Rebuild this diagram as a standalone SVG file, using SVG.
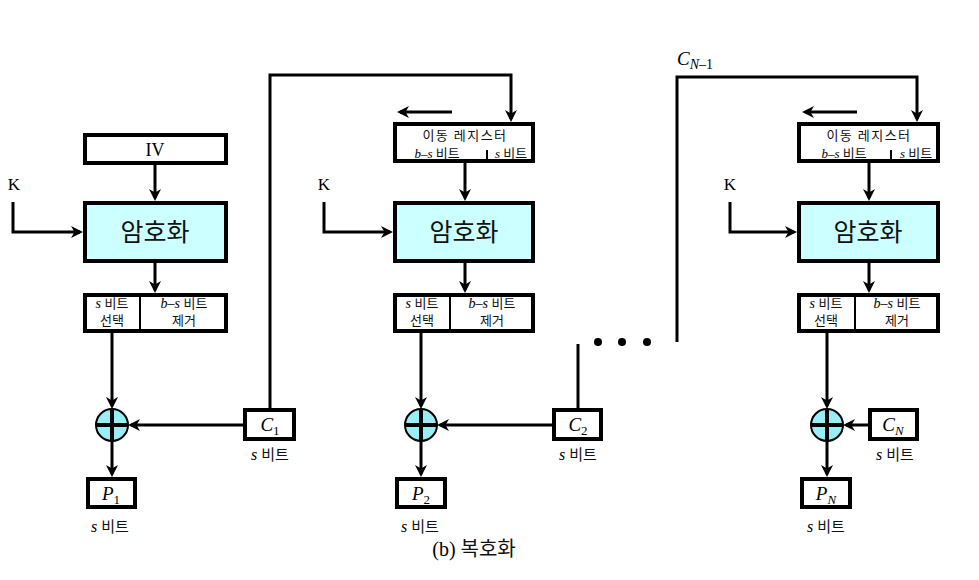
<svg xmlns="http://www.w3.org/2000/svg" width="979" height="580" viewBox="0 0 979 580">
<style>
.box{fill:#fff;stroke:#000;stroke-width:4}
.enc{fill:#ccffff;stroke:#000;stroke-width:4}
.div{stroke:#000;stroke-width:2}
.ln{fill:none;stroke:#000;stroke-width:3}
.arr{fill:none;stroke:#000;stroke-width:3;marker-end:url(#ah)}
.xor{fill:#99eef6;stroke:#000;stroke-width:2}
.cross{stroke:#000;stroke-width:4}
.kr{font-family:"Noto Sans CJK KR","Noto Sans",sans-serif;fill:#111}
.sm{font-size:13px}
.big{font-size:25px}
.it{font-family:"Liberation Serif",serif;font-style:italic}
.rm{font-family:"Liberation Serif",serif}
text{text-anchor:middle}
</style>
<defs>
<marker id="ah" markerUnits="userSpaceOnUse" markerWidth="14" markerHeight="12" refX="9" refY="6" orient="auto">
<path d="M0,0 L12,6 L0,12 L3.5,6 z" fill="#000"/>
</marker>
</defs>

<g id="connectors">
<path class="arr" d="M13,202 V232 H80"/>
<path class="arr" d="M155,165 V198"/>
<path class="arr" d="M155,263 V290"/>
<path class="arr" d="M112,333 V406"/>
<path class="arr" d="M112,441 V474"/>
<path class="arr" d="M243,425 H131"/>
<path class="arr" d="M270,408 V75 H511 V119"/>
<path class="arr" d="M452,112 H400"/>
<path class="arr" d="M324,202 V232 H390"/>
<path class="arr" d="M465,163 V198"/>
<path class="arr" d="M465,263 V290"/>
<path class="arr" d="M421,333 V406"/>
<path class="arr" d="M421,441 V474"/>
<path class="arr" d="M552,425 H440"/>
<path class="ln" d="M578,408 V344"/>
<circle cx="598" cy="342" r="4" fill="#000"/>
<circle cx="622" cy="342" r="4" fill="#000"/>
<circle cx="647" cy="342" r="4" fill="#000"/>
<path class="arr" d="M677,342 V77 H917 V119"/>
<path class="arr" d="M857,112 H805"/>
<path class="arr" d="M730,202 V232 H794"/>
<path class="arr" d="M869,163 V198"/>
<path class="arr" d="M869,263 V290"/>
<path class="arr" d="M827,333 V406"/>
<path class="arr" d="M827,441 V474"/>
<path class="arr" d="M868,425 H846"/>
</g>

<g id="labels">
<text x="14" y="190" class="rm" font-size="17">K</text>
<text x="324" y="190" class="rm" font-size="17">K</text>
<text x="730" y="190" class="rm" font-size="17">K</text>
<text x="695" y="65" class="it" font-size="19" text-anchor="start">C<tspan font-size="14" dy="4">N</tspan><tspan font-size="14" font-style="normal">–1</tspan></text>
<text x="474" y="556"><tspan class="rm" font-size="20">(b) </tspan><tspan class="kr" font-size="20">복호화</tspan></text>
</g>

<g id="iv">
<rect class="box" x="85" y="135" width="141" height="28"/>
<text x="155" y="156" class="rm" font-size="18">IV</text>
</g>
<g id="enc1">
<rect class="enc" x="85" y="203" width="141" height="58"/>
<text x="155" y="241" class="kr big">암호화</text>
</g>
<g id="sel1">
<rect class="box" x="85" y="295" width="141" height="36"/>
<line class="div" x1="140" y1="295" x2="140" y2="331"/>
<text x="112" y="308" class="sm"><tspan class="it" font-size="14">s </tspan><tspan class="kr">비트</tspan></text>
<text x="112" y="325" class="kr sm">선택</text>
<text x="184" y="308" class="sm"><tspan class="it" font-size="14">b–s </tspan><tspan class="kr">비트</tspan></text>
<text x="184" y="325" class="kr sm">제거</text>
</g>
<g id="xor1">
<circle class="xor" cx="112" cy="425" r="16"/>
<path class="cross" d="M96,425 H128 M112,409 V441"/>
</g>
<g id="p1">
<rect class="box" x="88" y="479" width="47" height="28"/>
<text x="111" y="500" class="it" font-size="19">P<tspan font-size="13" dy="4" font-style="normal">1</tspan></text>
<text x="110" y="532" class="sm"><tspan class="it" font-size="16">s </tspan><tspan class="kr" font-size="15">비트</tspan></text>
</g>
<g id="c1">
<rect class="box" x="245" y="410" width="49" height="29"/>
<text x="270" y="431" class="it" font-size="19">C<tspan font-size="13" dy="4" font-style="normal">1</tspan></text>
<text x="270" y="460" class="sm"><tspan class="it" font-size="16">s </tspan><tspan class="kr" font-size="15">비트</tspan></text>
</g>

<g id="reg2">
<rect class="box" x="395" y="124" width="138" height="37"/>
<line class="div" x1="487" y1="150" x2="487" y2="161"/>
<text x="465" y="140" class="kr sm" letter-spacing="1.5">이동 레지스터</text>
<text x="437" y="158" class="sm"><tspan class="it">b–s </tspan><tspan class="kr">비트</tspan></text>
<text x="511" y="158" class="sm"><tspan class="it">s </tspan><tspan class="kr">비트</tspan></text>
</g>
<g id="enc2">
<rect class="enc" x="395" y="203" width="138" height="58"/>
<text x="464" y="241" class="kr big">암호화</text>
</g>
<g id="sel2">
<rect class="box" x="395" y="295" width="138" height="36"/>
<line class="div" x1="450" y1="295" x2="450" y2="331"/>
<text x="422" y="308" class="sm"><tspan class="it" font-size="14">s </tspan><tspan class="kr">비트</tspan></text>
<text x="422" y="325" class="kr sm">선택</text>
<text x="492" y="308" class="sm"><tspan class="it" font-size="14">b–s </tspan><tspan class="kr">비트</tspan></text>
<text x="492" y="325" class="kr sm">제거</text>
</g>
<g id="xor2">
<circle class="xor" cx="421" cy="425" r="16"/>
<path class="cross" d="M405,425 H437 M421,409 V441"/>
</g>
<g id="p2">
<rect class="box" x="397" y="479" width="48" height="28"/>
<text x="421" y="500" class="it" font-size="19">P<tspan font-size="13" dy="4" font-style="normal">2</tspan></text>
<text x="420" y="532" class="sm"><tspan class="it" font-size="16">s </tspan><tspan class="kr" font-size="15">비트</tspan></text>
</g>
<g id="c2">
<rect class="box" x="554" y="410" width="47" height="29"/>
<text x="578" y="431" class="it" font-size="19">C<tspan font-size="13" dy="4" font-style="normal">2</tspan></text>
<text x="578" y="460" class="sm"><tspan class="it" font-size="16">s </tspan><tspan class="kr" font-size="15">비트</tspan></text>
</g>

<g id="reg3">
<rect class="box" x="799" y="124" width="139" height="37"/>
<line class="div" x1="891" y1="150" x2="891" y2="161"/>
<text x="869" y="140" class="kr sm" letter-spacing="1.5">이동 레지스터</text>
<text x="844" y="158" class="sm"><tspan class="it">b–s </tspan><tspan class="kr">비트</tspan></text>
<text x="916" y="158" class="sm"><tspan class="it">s </tspan><tspan class="kr">비트</tspan></text>
</g>
<g id="enc3">
<rect class="enc" x="799" y="203" width="139" height="58"/>
<text x="868" y="241" class="kr big">암호화</text>
</g>
<g id="sel3">
<rect class="box" x="799" y="295" width="139" height="36"/>
<line class="div" x1="855" y1="295" x2="855" y2="331"/>
<text x="826" y="308" class="sm"><tspan class="it" font-size="14">s </tspan><tspan class="kr">비트</tspan></text>
<text x="826" y="325" class="kr sm">선택</text>
<text x="897" y="308" class="sm"><tspan class="it" font-size="14">b–s </tspan><tspan class="kr">비트</tspan></text>
<text x="897" y="325" class="kr sm">제거</text>
</g>
<g id="xor3">
<circle class="xor" cx="827" cy="425" r="16"/>
<path class="cross" d="M811,425 H843 M827,409 V441"/>
</g>
<g id="pn">
<rect class="box" x="802" y="479" width="48" height="28"/>
<text x="826" y="500" class="it" font-size="19">P<tspan font-size="13" dy="4">N</tspan></text>
<text x="826" y="532" class="sm"><tspan class="it" font-size="16">s </tspan><tspan class="kr" font-size="15">비트</tspan></text>
</g>
<g id="cn">
<rect class="box" x="870" y="410" width="47" height="29"/>
<text x="893" y="431" class="it" font-size="19">C<tspan font-size="13" dy="4">N</tspan></text>
<text x="895" y="460" class="sm"><tspan class="it" font-size="16">s </tspan><tspan class="kr" font-size="15">비트</tspan></text>
</g>
</svg>
